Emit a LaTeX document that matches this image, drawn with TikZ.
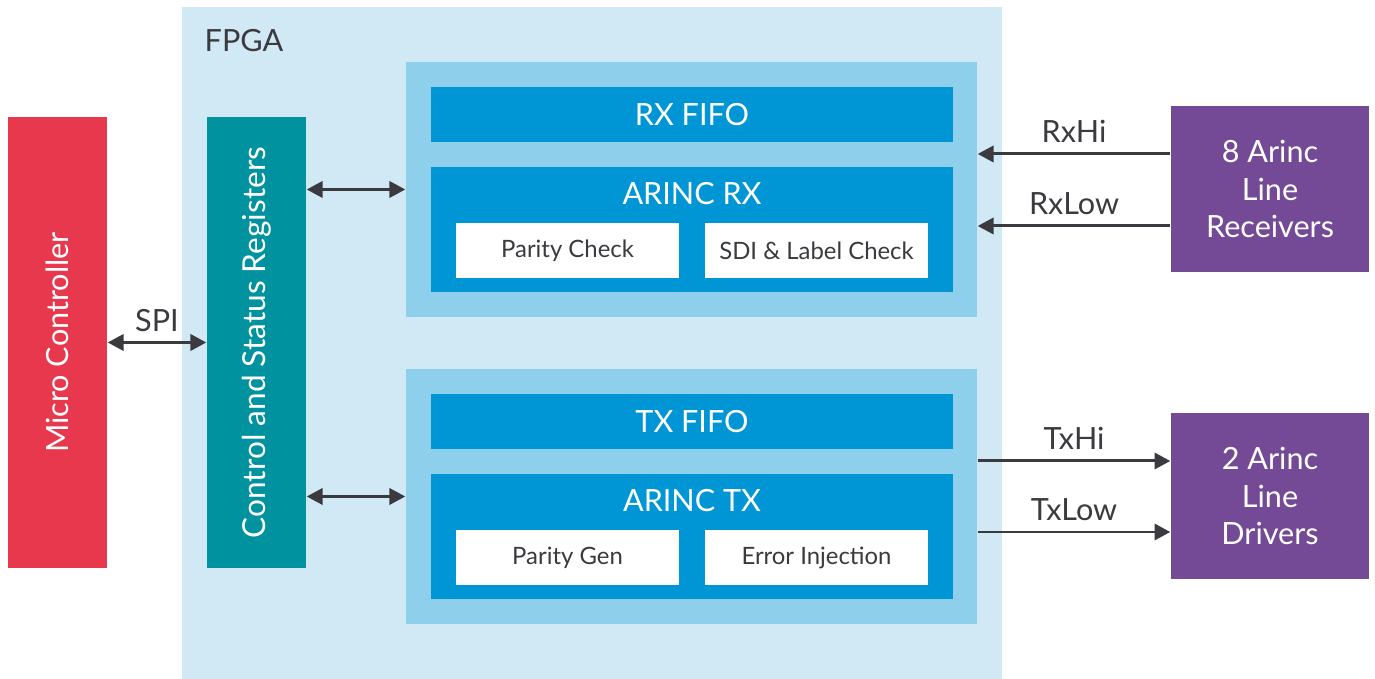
\documentclass[tikz,border=0pt]{standalone}
\usepackage{fontspec}
\setmainfont{Lato}
\usepackage{tikz}
\usetikzlibrary{arrows.meta}
\definecolor{fpgabg}{HTML}{D0E9F5}
\definecolor{lightblk}{HTML}{8ECFEC}
\definecolor{blueblk}{HTML}{0096D6}
\definecolor{tealblk}{HTML}{00929F}
\definecolor{redblk}{HTML}{E8384E}
\definecolor{purpleblk}{HTML}{744A96}
\definecolor{darktxt}{HTML}{3A3A3F}

\begin{document}
\begin{tikzpicture}[
    font=\fontsize{8.7}{10.8}\selectfont,
    blk/.style={rectangle, inner sep=0pt, align=center},
    sidebox/.style={blk, minimum width=0.99cm, minimum height=4.51cm, text=white},
    bigbox/.style={blk, fill=lightblk, minimum width=5.71cm, minimum height=2.55cm},
    fifo/.style={blk, fill=blueblk, minimum width=5.22cm, minimum height=0.55cm, text=white},
    arincbox/.style={blk, fill=blueblk, minimum width=5.22cm, minimum height=1.25cm},
    subbox/.style={blk, fill=white, minimum width=2.23cm, minimum height=0.55cm, text=darktxt, font=\fontsize{6.8}{8}\selectfont},
    linebox/.style={blk, fill=purpleblk, minimum width=1.98cm, minimum height=1.66cm, text=white},
    link/.style={draw=darktxt, line width=0.85pt, -{Triangle[length=4.5pt,width=4.6pt]}},
    dlink/.style={link, {Triangle[length=4.5pt,width=4.6pt]}-{Triangle[length=4.5pt,width=4.6pt]}},
    sig/.style={text=darktxt, midway, above=-0.6pt}
]
    \useasboundingbox (0,0) rectangle (13.75,6.79);
    \fill[fpgabg] (1.82,0) rectangle (10.02,6.72);
    \path
        (2.04,6.27) node(fpga)[anchor=base west, inner sep=0pt, text=darktxt]{FPGA}
        (0.575,3.365) node(mc)[sidebox, fill=redblk]{\rotatebox{90}{Micro Controller}}
        (2.565,3.365) node(csr)[sidebox, fill=tealblk]{\rotatebox{90}{\fontsize{9}{10.8}\selectfont Control and Status Registers}};
    % receive path
    \path
        (6.915,4.895) node(rxbox)[bigbox]{}
        (6.92,5.645) node(rxfifo)[fifo]{RX FIFO}
        (6.92,4.495) node(arincrx)[arincbox]{}
        (6.92,4.85) node(rxname)[text=white]{ARINC RX}
        (5.675,4.28) node(parchk)[subbox]{Parity Check}
        (8.165,4.28) node(sdichk)[subbox]{SDI \& Label Check}
        (12.70,4.90) node(rcv)[linebox]{8 Arinc\\Line\\Receivers};
    % transmit path
    \path
        (6.915,1.825) node(txbox)[bigbox]{}
        (6.92,2.575) node(txfifo)[fifo]{TX FIFO}
        (6.92,1.425) node(arinctx)[arincbox]{}
        (6.92,1.78) node(txname)[text=white]{ARINC TX}
        (5.675,1.21) node(pargen)[subbox]{Parity Gen}
        (8.165,1.21) node(errinj)[subbox]{Error Injection}
        (12.70,1.83) node(drv)[linebox]{2 Arinc\\Line\\Drivers};
    \draw [dlink] (mc.east) -- node[sig]{SPI} (csr.west);
    \draw [dlink] (csr.east |- rxbox.west) -- (rxbox.west);
    \draw [dlink] (csr.east |- txbox.west) -- (txbox.west);
    \draw [link] ([yshift=0.35cm]rcv.west) -- node[sig]{RxHi} ([yshift=0.35cm]rcv.west -| rxbox.east);
    \draw [link] ([yshift=-0.37cm]rcv.west) -- node[sig]{RxLow} ([yshift=-0.37cm]rcv.west -| rxbox.east);
    \draw [link] ([yshift=0.35cm]drv.west -| txbox.east) -- node[sig]{TxHi} ([yshift=0.35cm]drv.west);
    \draw [link] ([yshift=-0.36cm]drv.west -| txbox.east) -- node[sig]{TxLow} ([yshift=-0.36cm]drv.west);
\end{tikzpicture}
\end{document}
